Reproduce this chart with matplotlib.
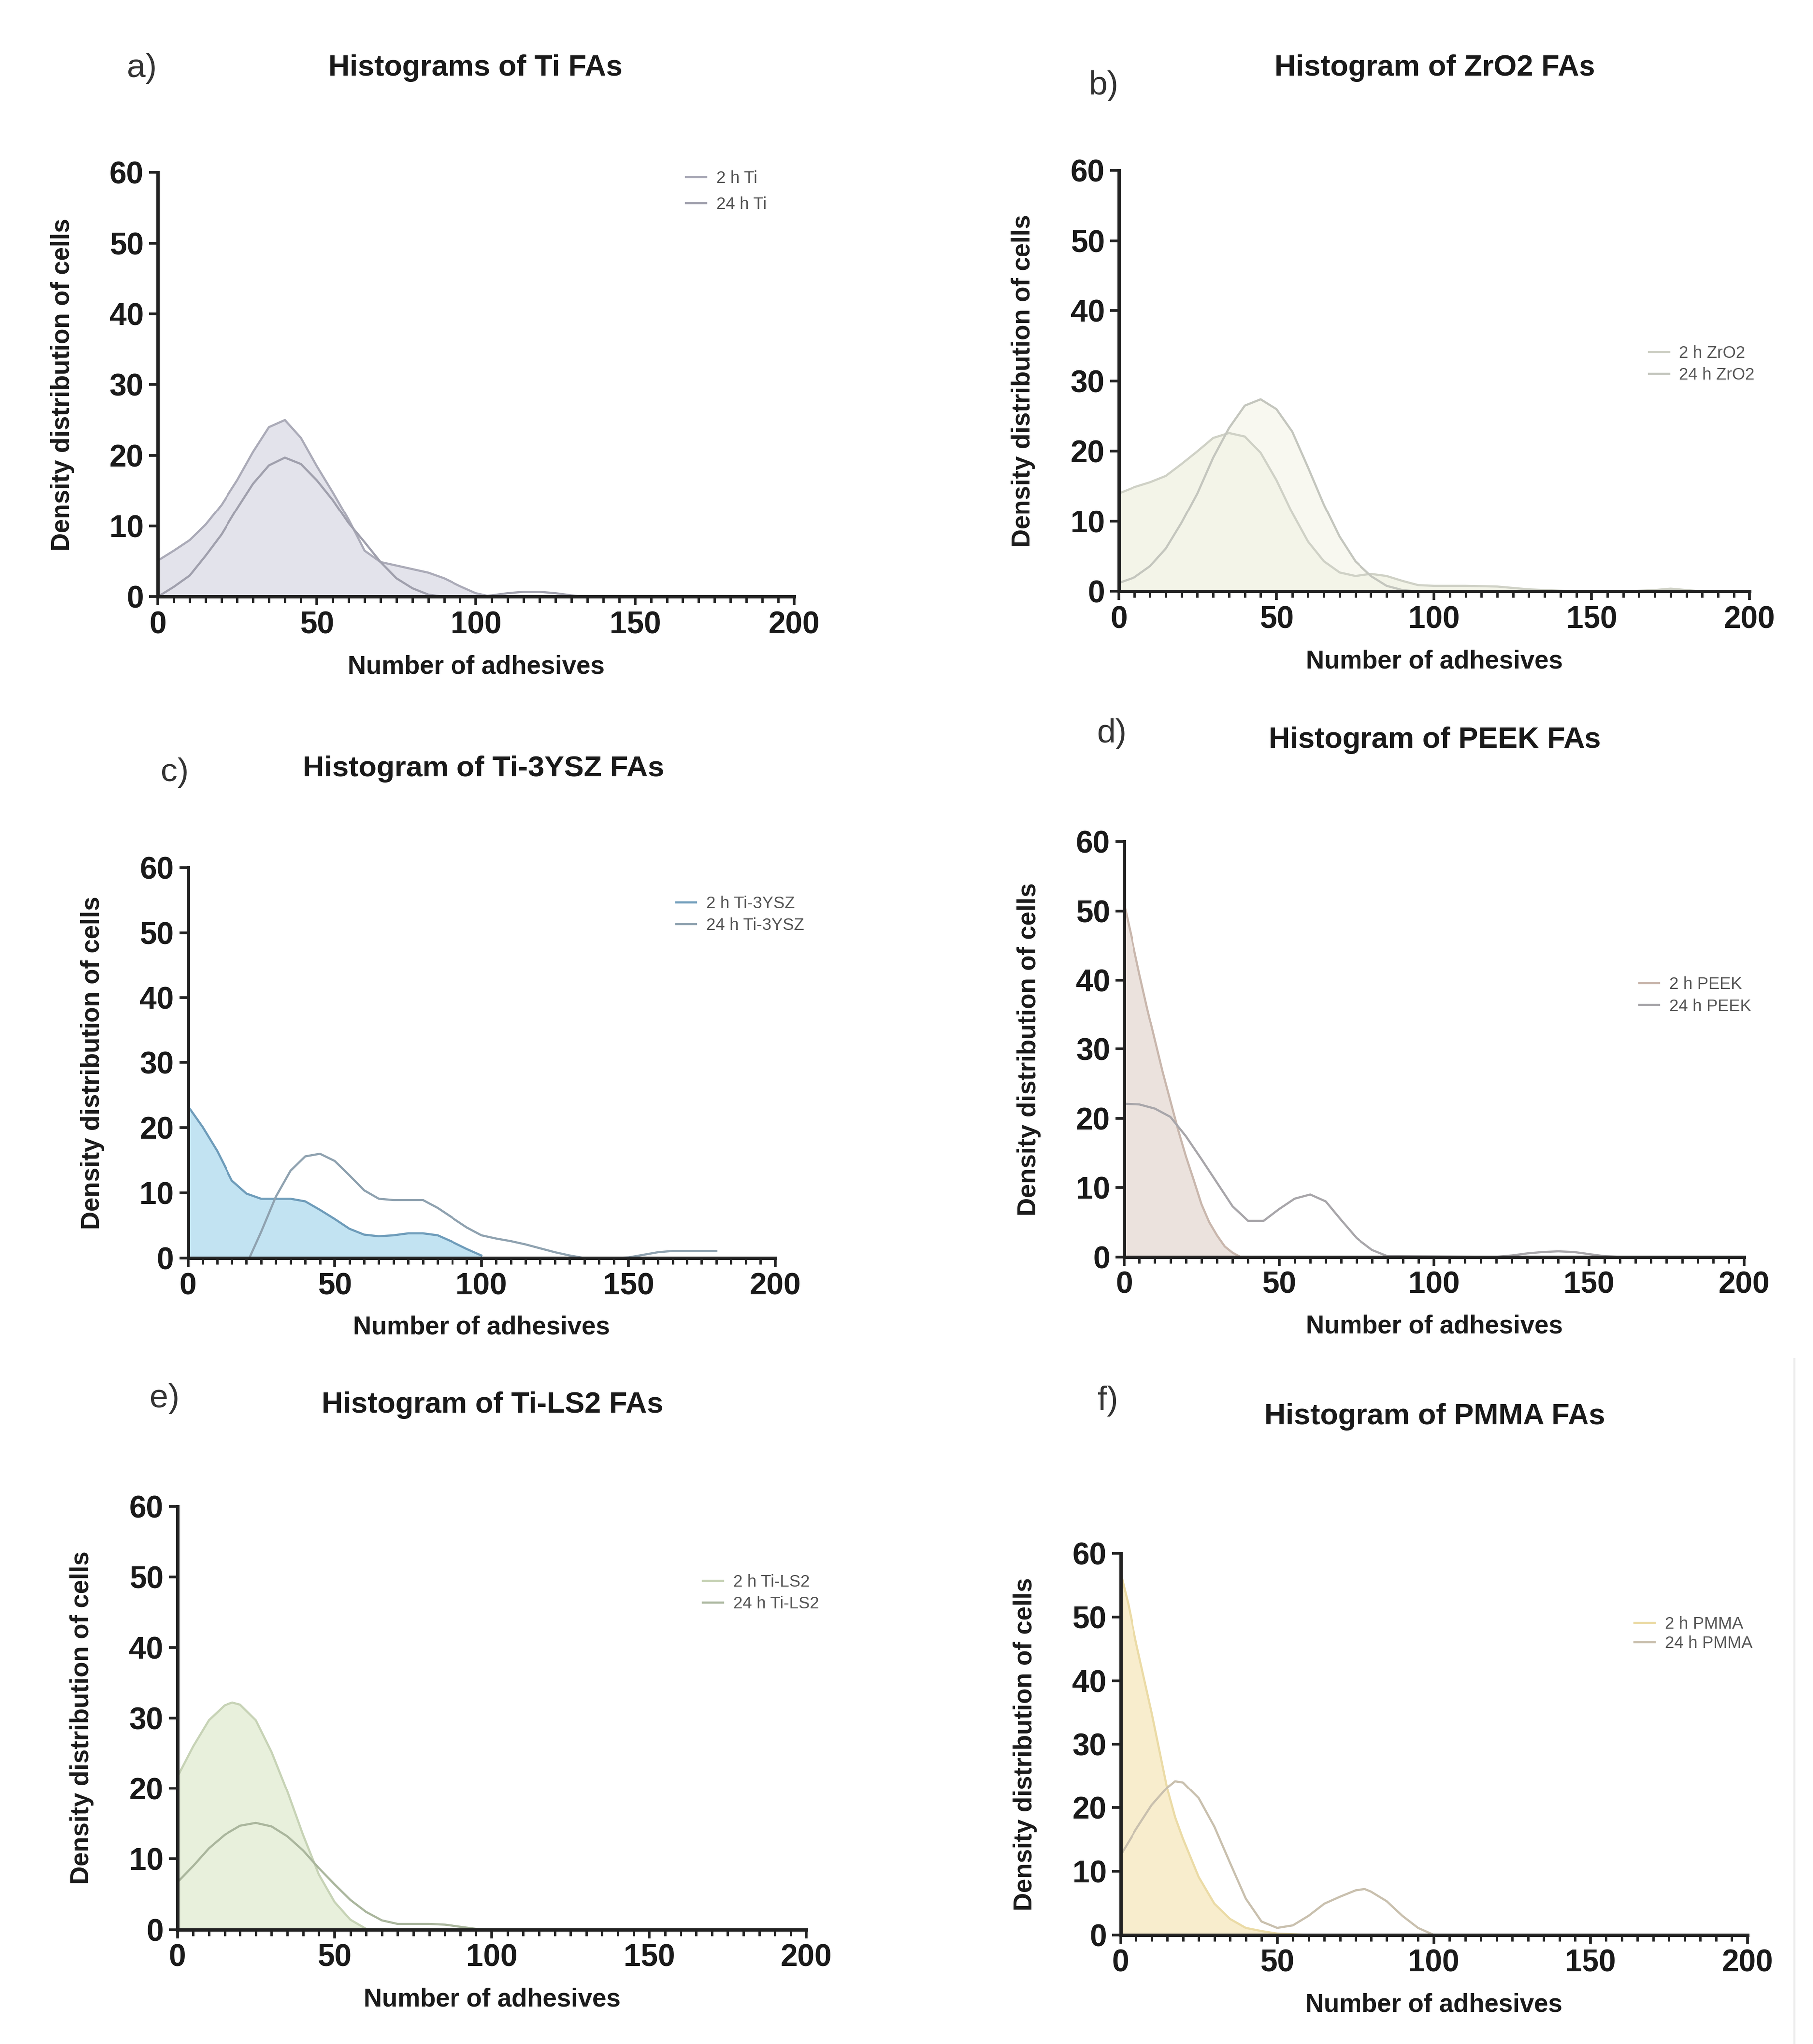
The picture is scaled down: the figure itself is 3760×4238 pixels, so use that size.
import matplotlib
matplotlib.use("Agg")
import matplotlib.pyplot as plt
from matplotlib.ticker import MultipleLocator
from matplotlib.lines import Line2D

plt.rcParams['font.family'] = ['Liberation Sans', 'DejaVu Sans']

#%% data (x = number of adhesives, y = density)
# a) Ti
ti_x = [0, 5, 10, 15, 20, 25, 30, 35, 40, 45, 50, 55, 60, 65, 70, 75, 80, 85, 90, 95, 100,
        105, 110, 115, 120, 125, 130, 135, 140, 200]
ti_2h = [5.1, 6.5, 8.0, 10.2, 13.0, 16.5, 20.5, 24.0, 25.0, 22.5, 18.5, 14.8, 10.9, 6.5, 4.9,
         4.4, 3.9, 3.4, 2.6, 1.5, 0.5, 0, 0, 0, 0, 0, 0, 0, 0, 0]
ti_24h = [0, 1.4, 3.0, 5.8, 8.8, 12.5, 16.0, 18.6, 19.7, 18.8, 16.5, 13.7, 10.4, 7.7, 4.9,
          2.6, 1.2, 0.3, 0, 0, 0, 0.2, 0.5, 0.7, 0.7, 0.5, 0.2, 0, 0, 0]

# b) ZrO2
zr_x = [0, 5, 10, 15, 20, 25, 30, 35, 40, 45, 50, 55, 60, 65, 70, 75, 80, 85, 90, 95, 100,
        110, 120, 130, 140, 150, 160, 170, 175, 180, 185, 200]
zr_2h = [14.0, 14.9, 15.6, 16.5, 18.2, 20.0, 21.9, 22.6, 22.1, 19.8, 15.9, 11.2, 7.1, 4.3, 2.7,
         2.2, 2.5, 2.2, 1.5, 0.9, 0.8, 0.8, 0.7, 0.3, 0.1, 0, 0, 0.2, 0.4, 0.2, 0, 0]
zr_24h = [1.2, 2.0, 3.6, 6.1, 9.8, 14.0, 19.1, 23.3, 26.5, 27.4, 26.0, 22.8, 17.7, 12.4, 7.8,
          4.3, 2.2, 0.8, 0.2, 0, 0, 0, 0, 0, 0, 0, 0, 0, 0, 0, 0, 0]

# c) Ti-3YSZ
ysz_x_2h = [0, 5, 10, 15, 20, 25, 30, 35, 40, 45, 50, 55, 60, 65, 70, 75, 80, 85, 90, 95, 100]
ysz_2h = [23.3, 20.1, 16.4, 11.9, 9.9, 9.1, 9.1, 9.1, 8.7, 7.4, 6.0, 4.5, 3.6, 3.35, 3.5, 3.8,
          3.8, 3.5, 2.5, 1.4, 0.4]
ysz_x_24h = [21, 25, 30, 35, 40, 45, 50, 55, 60, 65, 70, 75, 80, 85, 90, 95, 100, 105, 110,
             115, 120, 125, 130, 135, 140, 145, 150, 155, 160, 165, 170, 175, 180]
ysz_24h = [0, 4.0, 9.4, 13.4, 15.6, 16.0, 14.9, 12.7, 10.4, 9.1, 8.9, 8.9, 8.9, 7.7, 6.2, 4.7,
           3.5, 3.0, 2.6, 2.1, 1.5, 0.9, 0.4, 0, 0, 0, 0.1, 0.5, 0.9, 1.1, 1.1, 1.1, 1.1]

# d) PEEK
peek_x_2h = [0, 2.5, 5, 7.5, 10, 12.5, 15, 17.5, 20, 22.5, 25, 27.5, 30, 32.5, 35, 37.5, 200]
peek_2h = [51.0, 46.0, 40.8, 35.9, 31.3, 26.7, 22.5, 18.3, 14.5, 11.1, 7.6, 5.0, 3.1, 1.5,
           0.6, 0, 0]
peek_x_24h = [0, 5, 10, 15, 20, 25, 30, 35, 40, 45, 50, 55, 60, 65, 70, 75, 80, 85,
              120, 125, 130, 135, 140, 145, 150, 155, 160, 200]
peek_24h = [22.1, 22.0, 21.4, 20.2, 17.4, 14.1, 10.7, 7.3, 5.2, 5.2, 6.9, 8.4, 9.0, 8.0, 5.3,
            2.7, 1.0, 0.1, 0, 0.2, 0.5, 0.7, 0.8, 0.7, 0.4, 0.1, 0, 0]

# e) Ti-LS2
ls2_x_2h = [0, 5, 10, 15, 17.5, 20, 25, 30, 35, 40, 45, 50, 55, 60, 65, 200]
ls2_2h = [21.7, 26.0, 29.7, 31.8, 32.2, 31.9, 29.7, 25.2, 19.6, 13.4, 7.8, 3.9, 1.4, 0.1, 0, 0]
ls2_x_24h = [0, 5, 10, 15, 20, 25, 30, 35, 40, 45, 50, 55, 60, 65, 70, 75, 80, 85, 90, 95,
             100, 200]
ls2_24h = [6.7, 9.0, 11.5, 13.4, 14.7, 15.1, 14.6, 13.2, 11.2, 8.7, 6.4, 4.2, 2.5, 1.3, 0.8,
           0.8, 0.8, 0.7, 0.4, 0.1, 0, 0]

# f) PMMA
pmma_x_2h = [0, 2.5, 5, 7.5, 10, 12.5, 15, 17.5, 20, 25, 30, 35, 40, 45, 50, 60, 200]
pmma_2h = [57.0, 52.0, 46.0, 40.5, 35.0, 29.0, 23.0, 18.5, 15.1, 9.1, 4.9, 2.5, 1.1, 0.6,
           0.2, 0, 0]
pmma_x_24h = [0, 5, 10, 15, 17.5, 20, 25, 30, 35, 40, 45, 50, 55, 60, 65, 70, 75, 78, 80,
              85, 90, 95, 100, 200]
pmma_24h = [12.5, 16.6, 20.4, 23.2, 24.2, 24.0, 21.5, 17.0, 11.3, 5.7, 2.1, 1.1, 1.5, 3.0,
            4.9, 6.0, 7.0, 7.2, 6.8, 5.3, 3.0, 1.1, 0, 0]

panel_letters = ['a)', 'b)', 'c)', 'd)', 'e)', 'f)']
titles = ['Histograms of Ti FAs', 'Histogram of ZrO2 FAs', 'Histogram of Ti-3YSZ FAs',
          'Histogram of PEEK FAs', 'Histogram of Ti-LS2 FAs', 'Histogram of PMMA FAs']
materials = ['Ti', 'ZrO2', 'Ti-3YSZ', 'PEEK', 'Ti-LS2', 'PMMA']

#%% layout / style
W, H = 3760, 4238
fig = plt.figure(figsize=(W / 100, H / 100), dpi=100)

# axes boxes [left, bottom, width, height] in figure fractions
boxes = [[0.087, 0.708, 0.351, 0.2077],
         [0.617, 0.7106, 0.348, 0.206],
         [0.1036, 0.3846, 0.324, 0.191],
         [0.620, 0.3852, 0.342, 0.203],
         [0.0978, 0.056, 0.347, 0.207],
         [0.618, 0.0534, 0.3457, 0.1865]]
title_pos = [(0.2623, 0.9666), (0.7913, 0.9666), (0.2667, 0.6238),
             (0.7913, 0.638), (0.2717, 0.3125), (0.7913, 0.3068)]
letter_pos = [(0.0783, 0.9666), (0.6087, 0.958), (0.0964, 0.6219),
              (0.613, 0.641), (0.0906, 0.3158), (0.6109, 0.3145)]
legend_pos = [(0.82, 0.955), (0.83, 0.54), (0.82, 0.88),
              (0.82, 0.63), (0.825, 0.795), (0.81, 0.79)]
legend_gap = [0.6, 0.35, 0.35, 0.35, 0.35, 0.2]

fill_cols = ['#e3e3eb', '#f3f4e8', '#c2e3f2', '#ebe2dd', '#e8f0dc', '#f8edcd']
line2_cols = ['#ababb8', '#cfd1c6', '#6e9cba', '#c9b7ad', '#c7d3b6', '#ebdba6']
line24_cols = ['#a0a0ad', '#c4c6be', '#8fa2b0', '#a8a6aa', '#aab69d', '#c9c0ae']

series = [(ti_x, ti_2h, ti_x, ti_24h),
          (zr_x, zr_2h, zr_x, zr_24h),
          (ysz_x_2h, ysz_2h, ysz_x_24h, ysz_24h),
          (peek_x_2h, peek_2h, peek_x_24h, peek_24h),
          (ls2_x_2h, ls2_2h, ls2_x_24h, ls2_24h),
          (pmma_x_2h, pmma_2h, pmma_x_24h, pmma_24h)]

for i in range(6):
    ax = fig.add_axes(boxes[i])
    x2, y2, x24, y24 = series[i]

    ax.fill_between(x2, y2, 0, color=fill_cols[i], lw=0, zorder=1)
    if i == 1:
        ax.fill_between(x24, y24, 0, color='#f8f8f0', lw=0, zorder=0.5)
    l1, = ax.plot(x2, y2, color=line2_cols[i], lw=3.2, zorder=2, label='2 h ' + materials[i])
    l2, = ax.plot(x24, y24, color=line24_cols[i], lw=3.2, zorder=2, label='24 h ' + materials[i])

    ax.set_xlim(0, 200)
    ax.set_ylim(0, 60)
    ax.xaxis.set_major_locator(MultipleLocator(50))
    ax.xaxis.set_minor_locator(MultipleLocator(5))
    ax.yaxis.set_major_locator(MultipleLocator(10))
    for s in ['top', 'right']:
        ax.spines[s].set_visible(False)
    for s in ['left', 'bottom']:
        ax.spines[s].set_linewidth(5)
        ax.spines[s].set_color('#222222')
    ax.tick_params(which='major', length=13, width=4, color='#222222', pad=8,
                   labelsize=46)
    ax.tick_params(which='minor', length=9, width=3.5, color='#222222')
    for lab in ax.get_xticklabels() + ax.get_yticklabels():
        lab.set_fontweight('bold')
        lab.set_color('#1a1a1a')

    ax.set_xlabel('Number of adhesives', fontsize=38, fontweight='bold',
                  color='#1a1a1a', labelpad=22)
    ax.set_ylabel('Density distribution of cells', fontsize=38, fontweight='bold',
                  color='#1a1a1a', labelpad=52)

    ax.legend(handles=[l1, l2], loc='center left', bbox_to_anchor=legend_pos[i],
              frameon=False, fontsize=25, handlelength=1.2, handletextpad=0.6,
              labelspacing=legend_gap[i], borderaxespad=0, labelcolor='#555555')

    fig.text(title_pos[i][0], title_pos[i][1], titles[i], fontsize=44, fontweight='bold',
             ha='center', va='center', color='#1a1a1a')
    fig.text(letter_pos[i][0], letter_pos[i][1], panel_letters[i], fontsize=50,
             ha='center', va='center', color='#333333')

# faint scan edge on the right of panel f
fig.add_artist(Line2D([0.9895, 0.9895], [0.0, 0.335], color='#ececec', lw=3))

fig.savefig('out.png', dpi=100, facecolor='white')
